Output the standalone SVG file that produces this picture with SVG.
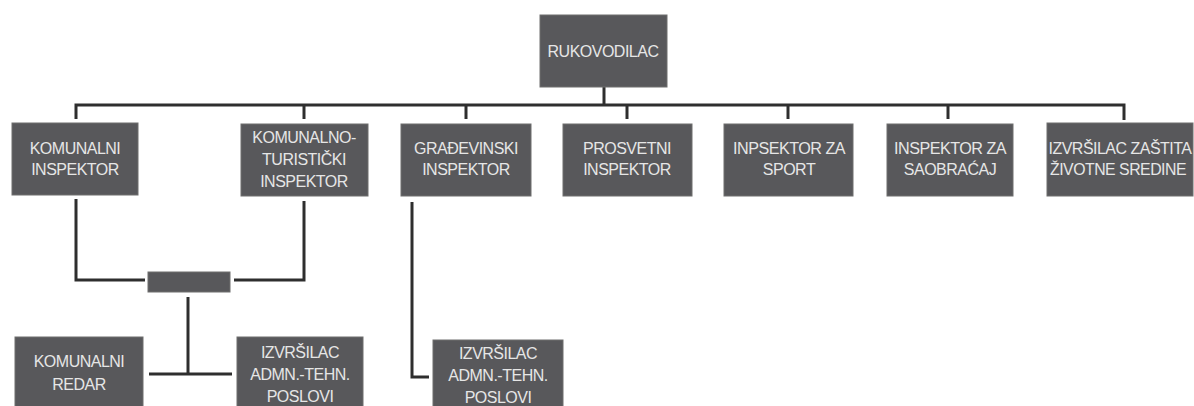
<svg xmlns="http://www.w3.org/2000/svg" width="1194" height="406" viewBox="0 0 1194 406">
<style>
.box{fill:#58585b;stroke:#6e6e6e;stroke-width:1}
.t{font-family:"Liberation Sans",Arial,sans-serif;font-size:16px;letter-spacing:-0.5px;fill:#e6e6e6;text-anchor:middle}
.c{fill:none;stroke:#2e2e2e;stroke-width:3;stroke-linejoin:miter}
</style>
<rect width="1194" height="406" fill="#ffffff"/>
<g id="connectors">
<path class="c" d="M604 87V105"/>
<path class="c" d="M76 119V105H1124V120"/>
<path class="c" d="M304 105V119"/>
<path class="c" d="M466 105V119"/>
<path class="c" d="M627 105V119"/>
<path class="c" d="M788 105V119"/>
<path class="c" d="M948 105V119"/>
<path class="c" d="M76 199V280H145"/>
<path class="c" d="M304 201V280H234"/>
<path class="c" d="M188 297V374"/>
<path class="c" d="M149 374H232"/>
<path class="c" d="M412 202V377H429"/>
</g>
<g id="rukovodilac"><rect class="box" x="540" y="15" width="127" height="72"/><text class="t" x="603" y="57">RUKOVODILAC</text></g>
<g id="komunalni-inspektor"><rect class="box" x="12" y="123" width="126" height="72"/><text class="t" x="75" y="154">KOMUNALNI</text><text class="t" x="75" y="175">INSPEKTOR</text></g>
<g id="komunalno-turisticki"><rect class="box" x="241" y="124" width="127" height="72"/><text class="t" x="304" y="143">KOMUNALNO-</text><text class="t" x="304" y="165">TURISTIČKI</text><text class="t" x="304" y="187">INSPEKTOR</text></g>
<g id="gradjevinski"><rect class="box" x="401" y="124" width="130" height="72"/><text class="t" x="466" y="154">GRAĐEVINSKI</text><text class="t" x="466" y="175">INSPEKTOR</text></g>
<g id="prosvetni"><rect class="box" x="563" y="124" width="129" height="72"/><text class="t" x="627" y="154">PROSVETNI</text><text class="t" x="627" y="175">INSPEKTOR</text></g>
<g id="sport"><rect class="box" x="724" y="124" width="129" height="72"/><text class="t" x="789" y="154" textLength="112" lengthAdjust="spacingAndGlyphs">INPSEKTOR ZA</text><text class="t" x="789" y="175">SPORT</text></g>
<g id="saobracaj"><rect class="box" x="887" y="124" width="126" height="72"/><text class="t" x="950" y="154" textLength="112" lengthAdjust="spacingAndGlyphs">INSPEKTOR ZA</text><text class="t" x="950" y="175">SAOBRAĆAJ</text></g>
<g id="zastita"><rect class="box" x="1047" y="123" width="146" height="73"/><text class="t" x="1120" y="154" textLength="143" lengthAdjust="spacingAndGlyphs">IZVRŠILAC ZAŠTITA</text><text class="t" x="1118" y="175" textLength="136" lengthAdjust="spacingAndGlyphs">ŽIVOTNE SREDINE</text></g>
<g id="mali"><rect class="box" x="148" y="272" width="82" height="20"/></g>
<g id="komunalni-redar"><rect class="box" x="15" y="337" width="128" height="75"/><text class="t" x="79" y="367">KOMUNALNI</text><text class="t" x="79" y="390">REDAR</text></g>
<g id="izvrsilac-1"><rect class="box" x="237" y="337" width="126" height="75"/><text class="t" x="300" y="358">IZVRŠILAC</text><text class="t" x="300" y="380">ADMN.-TEHN.</text><text class="t" x="300" y="402">POSLOVI</text></g>
<g id="izvrsilac-2"><rect class="box" x="433" y="340" width="130" height="72"/><text class="t" x="498" y="359">IZVRŠILAC</text><text class="t" x="498" y="381">ADMN.-TEHN.</text><text class="t" x="498" y="403">POSLOVI</text></g>
</svg>
